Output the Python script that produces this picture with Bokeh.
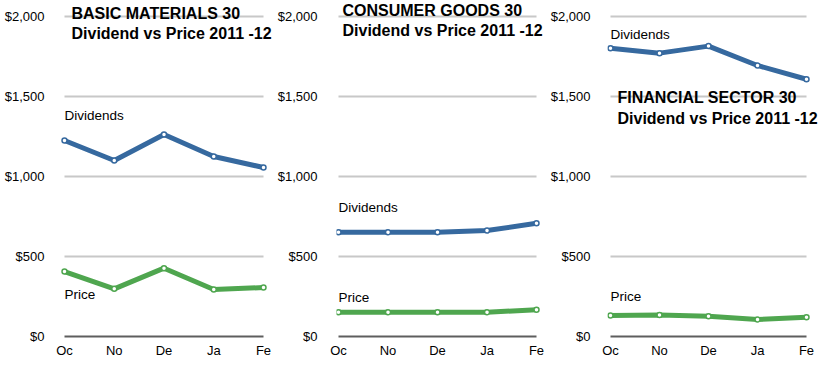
from bokeh.plotting import figure
from bokeh.layouts import row
from bokeh.models import Range1d, FixedTicker, NumeralTickFormatter, Label, ColumnDataSource
from bokeh.embed import file_html
from bokeh.resources import INLINE

# ---- data ----
months = ["Oc", "No", "De", "Ja", "Fe"]
y_ticks = [0, 500, 1000, 1500, 2000]

basic_dividends = [1225, 1100, 1262, 1125, 1056]
basic_price = [406, 298, 427, 294, 306]

consumer_dividends = [652, 652, 652, 662, 708]
consumer_price = [152, 152, 152, 152, 167]

financial_dividends = [1802, 1771, 1815, 1694, 1608]
financial_price = [131, 135, 127, 106, 121]

titles = [
    ("BASIC MATERIALS 30", "Dividend vs Price 2011 -12"),
    ("CONSUMER GOODS 30", "Dividend vs Price 2011 -12"),
    ("FINANCIAL SECTOR 30", "Dividend vs Price 2011 -12"),
]

BLUE = "#36699f"
GREEN = "#4fa64f"
FONT = "Liberation Sans"

PX_PER_USD = 0.16
BORDER_TOP, FRAME_H, BORDER_BOTTOM = 2, 337, 22
PAD_TOP, PAD_BOTTOM = 14, 3


def make_panel(div, price, title, title_y, div_label_y, price_label_y,
               border_left, span_px, pad_left, pad_right, standoff, title_dx):
    unit = span_px / 4.0
    frame_w = pad_left + span_px + pad_right
    width = border_left + frame_w
    height = BORDER_TOP + FRAME_H + BORDER_BOTTOM
    p = figure(width=width, height=height, output_backend="svg", toolbar_location=None,
               x_range=Range1d(-pad_left / unit, 4 + pad_right / unit),
               y_range=Range1d(-PAD_BOTTOM / PX_PER_USD, 2000 + PAD_TOP / PX_PER_USD),
               min_border_left=border_left, min_border_right=0,
               min_border_top=BORDER_TOP, min_border_bottom=BORDER_BOTTOM)
    p.outline_line_color = None
    p.background_fill_color = "white"
    p.border_fill_color = "white"
    p.grid.visible = False

    xs = list(range(len(months)))
    grid_y = [t for t in y_ticks if t != 0]
    p.segment(x0=[xs[0]] * len(grid_y), x1=[xs[-1]] * len(grid_y), y0=grid_y, y1=grid_y,
              line_color="#c8c8c8", line_width=2)
    p.segment(x0=[xs[0]], x1=[xs[-1]], y0=[0], y1=[0], line_color="#5e5e5e", line_width=2)

    for vals, col in ((div, BLUE), (price, GREEN)):
        src = ColumnDataSource(dict(x=xs, y=vals))
        p.line("x", "y", source=src, line_color=col, line_width=5, line_join="round")
        p.scatter("x", "y", source=src, size=5, fill_color="white", line_color=col, line_width=1.5)

    p.xaxis.ticker = FixedTicker(ticks=xs)
    p.xaxis.major_label_overrides = {i: m for i, m in enumerate(months)}
    p.yaxis.ticker = FixedTicker(ticks=y_ticks)
    p.yaxis.formatter = NumeralTickFormatter(format="$0,0")
    for ax in (p.xaxis, p.yaxis):
        ax.axis_line_color = None
        ax.major_tick_line_color = None
        ax.minor_tick_line_color = None
        ax.major_tick_out = 0
        ax.major_tick_in = 0
        ax.major_label_text_font = FONT
        ax.major_label_text_font_size = "13px"
        ax.major_label_text_color = "#000000"
    p.yaxis.major_label_standoff = standoff
    p.xaxis.major_label_standoff = 3

    for line, ty in zip(title, title_y):
        p.add_layout(Label(x=0, y=ty, x_offset=title_dx, text=line, text_font=FONT,
                           text_font_size="16px", text_font_style="bold",
                           text_color="#000000", text_baseline="alphabetic"))
    p.add_layout(Label(x=0, y=div_label_y, text="Dividends", text_font=FONT,
                       text_font_size="13.5px", text_color="#000000", text_baseline="alphabetic"))
    p.add_layout(Label(x=0, y=price_label_y, text="Price", text_font=FONT,
                       text_font_size="13.5px", text_color="#000000", text_baseline="alphabetic"))
    return p


p1 = make_panel(basic_dividends, basic_price, titles[0], (2017, 1896), 1381, 262,
                border_left=59, span_px=199, pad_left=5, pad_right=11, standoff=15, title_dx=7)
p2 = make_panel(consumer_dividends, consumer_price, titles[1], (2036, 1911), 806, 243,
                border_left=62, span_px=198, pad_left=2, pad_right=11, standoff=19, title_dx=4)
p3 = make_panel(financial_dividends, financial_price, titles[2], (1492, 1361), 1887, 250,
                border_left=60, span_px=196, pad_left=3, pad_right=16, standoff=17, title_dx=7)

layout = row(p1, p2, p3)
open("out.html", "w").write(file_html(layout, INLINE))
